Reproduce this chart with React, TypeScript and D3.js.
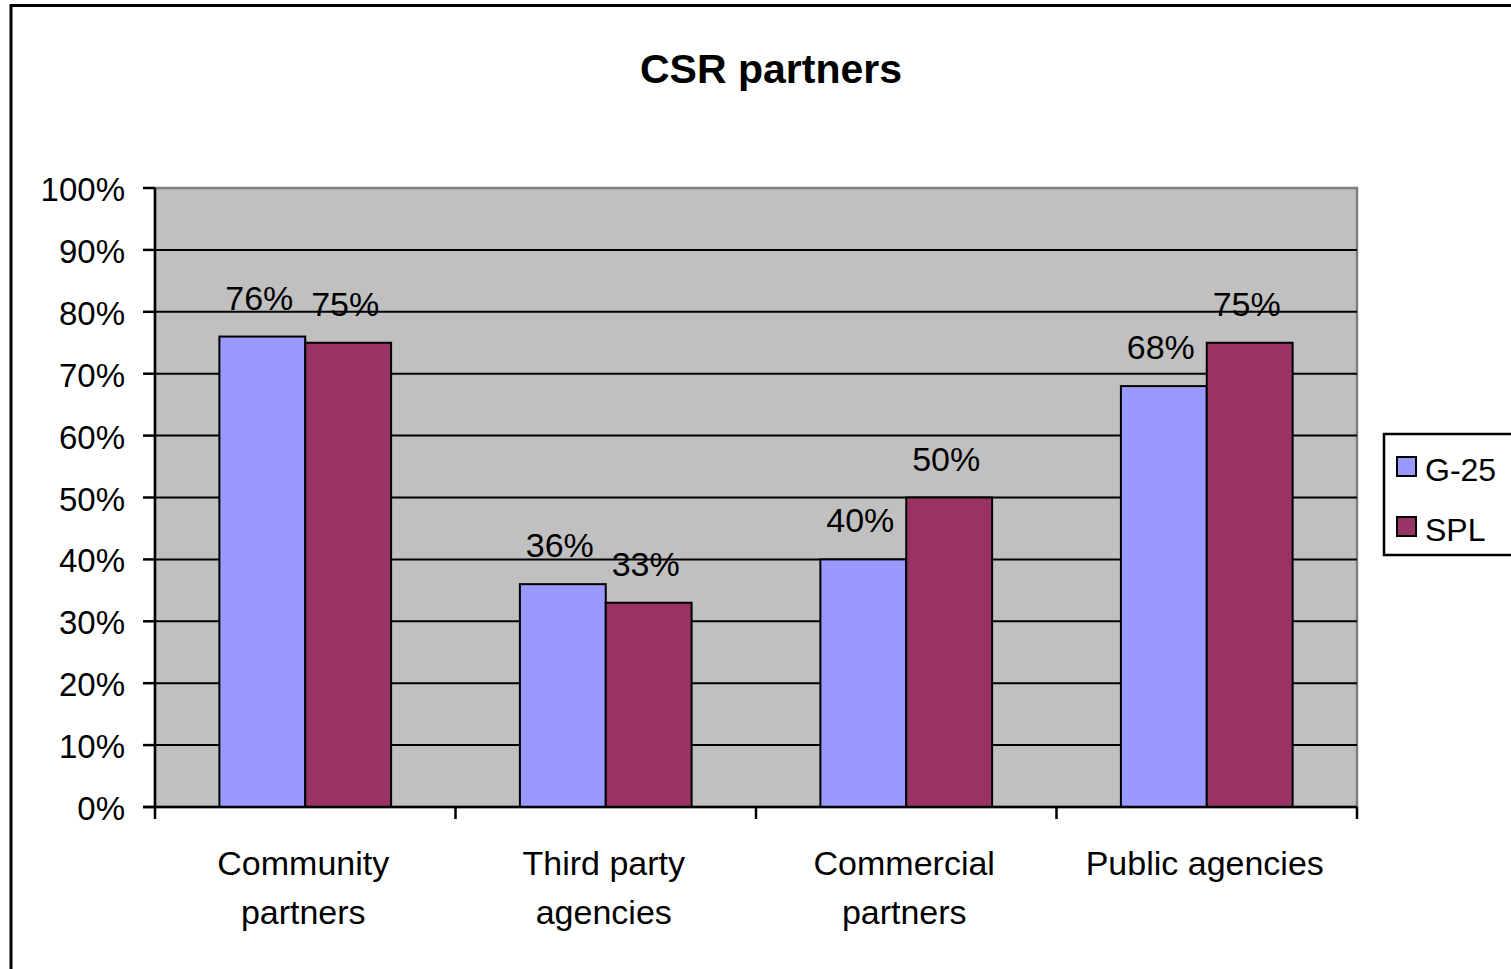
import React from "react";
import * as d3 from "d3";

const categories = [["Community", "partners"], ["Third party", "agencies"], ["Commercial", "partners"], ["Public agencies"]];
const seriesNames = ["G-25", "SPL"];
const g25Values = [76, 36, 40, 68];
const splValues = [75, 33, 50, 75];
const yTicks = [0, 10, 20, 30, 40, 50, 60, 70, 80, 90, 100];
const colors = ["#9999FF", "#993366"];

const W = 1511, H = 969;
const plot = { left: 155, right: 1357, top: 188, bottom: 807 };
const FONT = "'Liberation Sans', Arial, sans-serif";

export default function App() {
  const x0 = d3.scaleBand<number>().domain(d3.range(categories.length)).range([plot.left, plot.right]).paddingInner(0).paddingOuter(0);
  const bw = x0.bandwidth() / 3.5;
  const y = d3.scaleLinear().domain([0, 100]).range([plot.bottom, plot.top]);
  const series = [g25Values, splValues];

  return (
    <svg width={W} height={H} style={{ position: "absolute", left: 0, top: 0, background: "#fff" }} fontFamily={FONT}>
      <rect x={11} y={5.5} width={W + 20} height={H + 20} fill="#fff" stroke="#000" strokeWidth={3} />
      <text x={771} y={83} textAnchor="middle" fontSize={41} fontWeight="bold">CSR partners</text>
      <rect x={plot.left} y={plot.top} width={plot.right - plot.left} height={plot.bottom - plot.top} fill="#C0C0C0" stroke="#808080" strokeWidth={2.5} />
      {yTicks.filter(t => t > 0 && t < 100).map(t => (
        <line key={t} x1={plot.left} x2={plot.right} y1={y(t)} y2={y(t)} stroke="#000" strokeWidth={2} />
      ))}
      {categories.map((c, i) => series.map((vals, s) => {
        const bx = (x0(i) as number) + x0.bandwidth() / 2 - bw + s * bw;
        return (
          <rect key={`${i}-${s}`} x={bx} y={y(vals[i])} width={bw} height={plot.bottom - y(vals[i])} fill={colors[s]} stroke="#000" strokeWidth={2} />
        );
      }))}
      {categories.map((c, i) => series.map((vals, s) => {
        const bx = (x0(i) as number) + x0.bandwidth() / 2 - bw + s * bw;
        return (
          <text key={`l${i}-${s}`} x={bx + bw / 2 - 3} y={y(vals[i]) - 27} textAnchor="middle" fontSize={34}>{vals[i]}%</text>
        );
      }))}
      {/* axes */}
      <line x1={plot.left} x2={plot.left} y1={plot.top} y2={plot.bottom} stroke="#000" strokeWidth={2.5} />
      <line x1={plot.left - 12} x2={plot.right} y1={plot.bottom} y2={plot.bottom} stroke="#000" strokeWidth={2.5} />
      {yTicks.map(t => (
        <g key={t}>
          <line x1={plot.left - 12} x2={plot.left} y1={y(t)} y2={y(t)} stroke="#000" strokeWidth={2.5} />
          <text x={125} y={y(t) + 13} textAnchor="end" fontSize={33}>{t}%</text>
        </g>
      ))}
      {d3.range(categories.length + 1).map(i => {
        const xx = i < categories.length ? (x0(i) as number) : plot.right;
        return <line key={i} x1={xx} x2={xx} y1={plot.bottom} y2={plot.bottom + 12} stroke="#000" strokeWidth={2.5} />;
      })}
      {categories.map((c, i) => (
        <text key={i} textAnchor="middle" fontSize={34}>
          {c.map((line, k) => (
            <tspan key={k} x={(x0(i) as number) + x0.bandwidth() / 2 - 2} y={875 + k * 49}>{line}</tspan>
          ))}
        </text>
      ))}
      {/* legend */}
      <rect x={1384} y={434} width={140} height={121} fill="#fff" stroke="#000" strokeWidth={2.5} />
      {seriesNames.map((n, i) => (
        <g key={n}>
          <rect x={1397} y={457 + i * 60} width={19} height={19} fill={colors[i]} stroke="#000" strokeWidth={2} />
          <text x={1425} y={481 + i * 60} fontSize={32}>{n}</text>
        </g>
      ))}
    </svg>
  );
}
